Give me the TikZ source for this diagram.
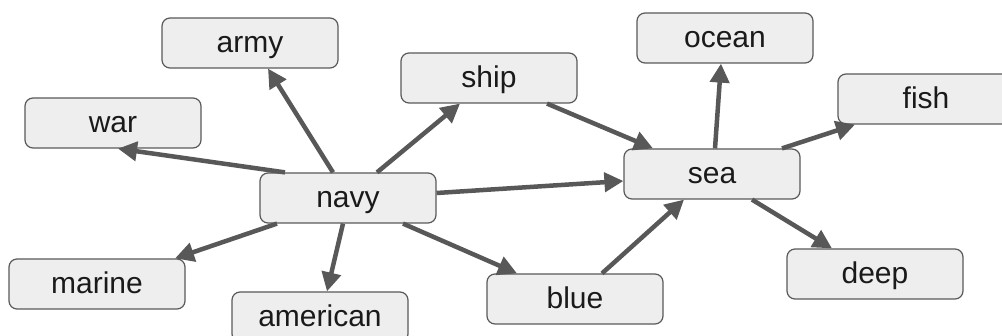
\documentclass[tikz,border=0pt]{standalone}
\usepackage{fontspec}
\setmainfont{Liberation Sans}
\usetikzlibrary{arrows.meta,calc}
\definecolor{boxfill}{HTML}{EEEEEE}
\definecolor{boxline}{HTML}{5A5A5A}
\definecolor{linkcol}{HTML}{585858}
\definecolor{wordcol}{HTML}{1A1A1A}
\tikzset{
  word/.style={draw=boxline, line width=1.2pt, fill=boxfill, rounded corners=8pt,
    minimum width=176pt, minimum height=50pt, inner sep=0pt,
    text height=26pt, text depth=7pt,
    text=wordcol, font=\fontsize{30}{32}\selectfont},
  link/.style={draw=linkcol, line width=4.5pt,
    -{Triangle[length=19pt,width=19pt]}}
}
\begin{document}
\begin{tikzpicture}[x=1pt,y=-1pt]
\useasboundingbox (0,0) rectangle (1002,336);
\clip (0,0) rectangle (1002,336);
\fill[white] (0,0) rectangle (1002,336);

% word boxes
\node[word] (army)     at (250,43)  {army};
\node[word] (war)      at (113,123) {war};
\node[word] (navy)     at (348,198) {navy};
\node[word] (marine)   at (97,284)  {marine};
\node[word] (american) at (320,317) {american};
\node[word] (ship)     at (489,78)  {ship};
\node[word] (ocean)    at (725,38)  {ocean};
\node[word] (fish)     at (926,99)  {fish};
\node[word] (sea)      at (712,174) {sea};
\node[word] (deep)     at (875,274) {deep};
\node[word] (blue)     at (575,299) {blue};

% links out of navy
\draw[link] ($(navy.north)+(-63,0)$) -- ($(war.south)+(5,0)$);
\draw[link] ($(navy.north)+(-15,0)$) -- ($(army.south)+(18,0)$);
\draw[link] ($(navy.north)+(29,0)$)  -- ($(ship.south)+(-29,0)$);
\draw[link] ($(navy.east)+(0,-5)$)   -- ($(sea.west)+(0,7)$);
\draw[link] ($(navy.south)+(-71,0)$) -- ($(marine.north)+(78,0)$);
\draw[link] ($(navy.south)+(-5,0)$)  -- ($(american.north)+(7,0)$);
\draw[link] ($(navy.south)+(55,0)$)  -- ($(blue.north)+(-58,0)$);

% links into sea
\draw[link] ($(ship.south)+(58,0)$)  -- ($(sea.north)+(-59,0)$);
\draw[link] ($(blue.north)+(27,0)$)  -- ($(sea.south)+(-28,0)$);

% links out of sea
\draw[link] ($(sea.north)+(3,0)$)    -- ($(ocean.south)+(-4,0)$);
\draw[link] ($(sea.north)+(70,0)$)   -- ($(fish.south)+(-71,0)$);
\draw[link] ($(sea.south)+(40,0)$)   -- ($(deep.north)+(-43,0)$);
\end{tikzpicture}
\end{document}
